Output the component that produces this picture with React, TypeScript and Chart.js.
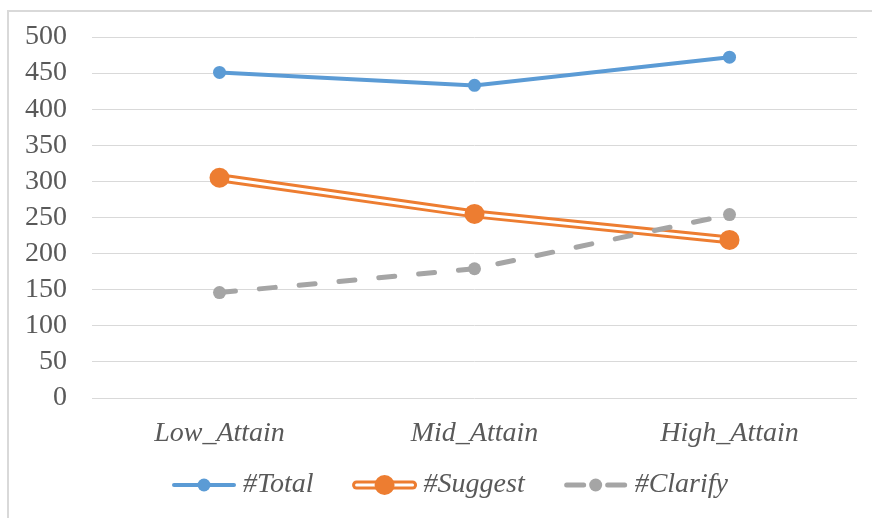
import React, { useEffect, useRef } from "react";
import { Chart, registerables } from "chart.js";

Chart.register(...registerables);

// Categories and series values
const categories = ["Low_Attain", "Mid_Attain", "High_Attain"];
const totalValues = [451, 433, 472];
const suggestValues = [305, 255, 219];
const clarifyValues = [146, 179, 254];
const seriesNames = ["#Total", "#Suggest", "#Clarify"];

// Value axis
const yMin = 0;
const yMax = 500;
const yStep = 50;

const BLUE = "#5B9BD5";
const ORANGE = "#ED7D31";
const GRAY = "#A5A5A5";
const TEXT = "#595959";
const GRID = "#D9D9D9";
const FONT_FAMILY = '"Liberation Serif", "Times New Roman", serif';

const W = 872;
const H = 518;

// Legend drawn under the plot: line sample with marker, then series name
const legendPlugin = {
  id: "seriesLegend",
  afterDraw(chart: any) {
    const ctx: CanvasRenderingContext2D = chart.ctx;
    ctx.save();
    ctx.font = `italic 28px ${FONT_FAMILY}`;
    const sampleW = 64;
    const textGap = 7;
    const itemGap = 39;
    const widths = seriesNames.map((n) => ctx.measureText(n).width);
    const totalW =
      widths.reduce((a, b) => a + b, 0) +
      seriesNames.length * (sampleW + textGap) +
      (seriesNames.length - 1) * itemGap;
    let x = 450 - totalW / 2;
    const y = 485;

    seriesNames.forEach((name, i) => {
      const cx = x + sampleW / 2;
      ctx.lineCap = "round";
      if (i === 0) {
        ctx.strokeStyle = BLUE;
        ctx.lineWidth = 4;
        ctx.beginPath();
        ctx.moveTo(x + 2, y);
        ctx.lineTo(x + sampleW - 2, y);
        ctx.stroke();
        ctx.fillStyle = BLUE;
        ctx.beginPath();
        ctx.arc(cx, y, 6.5, 0, Math.PI * 2);
        ctx.fill();
      } else if (i === 1) {
        ctx.strokeStyle = ORANGE;
        ctx.lineWidth = 9;
        ctx.beginPath();
        ctx.moveTo(x + 4, y);
        ctx.lineTo(x + sampleW - 4, y);
        ctx.stroke();
        ctx.strokeStyle = "#ffffff";
        ctx.lineWidth = 3;
        ctx.beginPath();
        ctx.moveTo(x + 4, y);
        ctx.lineTo(x + sampleW - 4, y);
        ctx.stroke();
        ctx.fillStyle = ORANGE;
        ctx.beginPath();
        ctx.arc(cx, y, 10, 0, Math.PI * 2);
        ctx.fill();
      } else {
        ctx.strokeStyle = GRAY;
        ctx.lineWidth = 5;
        ctx.beginPath();
        ctx.moveTo(x + 3, y);
        ctx.lineTo(x + 20, y);
        ctx.moveTo(x + sampleW - 20, y);
        ctx.lineTo(x + sampleW - 3, y);
        ctx.stroke();
        ctx.fillStyle = GRAY;
        ctx.beginPath();
        ctx.arc(cx, y, 6.5, 0, Math.PI * 2);
        ctx.fill();
      }
      ctx.fillStyle = TEXT;
      ctx.textAlign = "left";
      ctx.textBaseline = "middle";
      ctx.fillText(name, x + sampleW + textGap, y);
      x += sampleW + textGap + widths[i] + itemGap;
    });
    ctx.restore();
  },
};

export default function App() {
  const canvasRef = useRef<HTMLCanvasElement | null>(null);

  useEffect(() => {
    document.body.style.overflow = "hidden";
    const canvas = canvasRef.current;
    if (!canvas) return;

    const chart = new Chart(canvas, {
      type: "line",
      data: {
        labels: categories,
        datasets: [
          {
            label: seriesNames[2],
            data: clarifyValues,
            borderColor: GRAY,
            backgroundColor: GRAY,
            borderWidth: 5,
            borderDash: [16, 24],
            borderCapStyle: "round",
            pointRadius: 6.5,
            pointBorderWidth: 0,
            pointBackgroundColor: GRAY,
            tension: 0,
            order: 0,
          },
          {
            // Suggest markers on top of its double line
            label: seriesNames[1],
            data: suggestValues,
            showLine: false,
            pointRadius: 10,
            pointBorderWidth: 0,
            pointBackgroundColor: ORANGE,
            order: 1,
          },
          {
            // inner gap of the Suggest double line
            label: seriesNames[1] + " inner",
            data: suggestValues,
            borderColor: "#ffffff",
            borderWidth: 3,
            pointRadius: 0,
            tension: 0,
            order: 2,
          },
          {
            label: seriesNames[1] + " outer",
            data: suggestValues,
            borderColor: ORANGE,
            borderWidth: 9,
            pointRadius: 0,
            tension: 0,
            order: 3,
          },
          {
            label: seriesNames[0],
            data: totalValues,
            borderColor: BLUE,
            backgroundColor: BLUE,
            borderWidth: 4,
            pointRadius: 6.5,
            pointBorderWidth: 0,
            pointBackgroundColor: BLUE,
            tension: 0,
            order: 4,
          },
        ],
      },
      options: {
        responsive: false,
        animation: false,
        layout: { padding: { top: 37, right: 15, bottom: 60, left: 0 } },
        plugins: {
          legend: { display: false },
          tooltip: { enabled: false },
        },
        scales: {
          x: {
            offset: true,
            grid: { display: false },
            border: { display: false },
            ticks: {
              color: TEXT,
              padding: 11,
              font: { family: FONT_FAMILY, size: 28, style: "italic" },
            },
            afterFit: (s: any) => {
              s.height = 60;
            },
          },
          y: {
            min: yMin,
            max: yMax,
            grid: { color: GRID, lineWidth: 1, drawTicks: false },
            border: { display: false },
            ticks: {
              stepSize: yStep,
              autoSkip: false,
              color: TEXT,
              padding: 25,
              font: { family: FONT_FAMILY, size: 28 },
            },
            afterFit: (s: any) => {
              s.width = 92;
              s.paddingTop = 0;
              s.paddingBottom = 0;
            },
          },
        },
      },
      plugins: [legendPlugin],
    } as any);

    return () => chart.destroy();
  }, []);

  return (
    <div style={{ position: "absolute", left: 0, top: 0, width: W, height: H, background: "#fff" }}>
      <div
        style={{
          position: "absolute",
          left: 7,
          top: 10,
          width: W - 7,
          height: H - 10,
          boxSizing: "border-box",
          borderLeft: `2px solid ${GRID}`,
          borderTop: `2px solid ${GRID}`,
        }}
      />
      <canvas
        ref={canvasRef}
        width={W}
        height={H}
        style={{ position: "absolute", left: 0, top: 0, width: W, height: H }}
      />
    </div>
  );
}
